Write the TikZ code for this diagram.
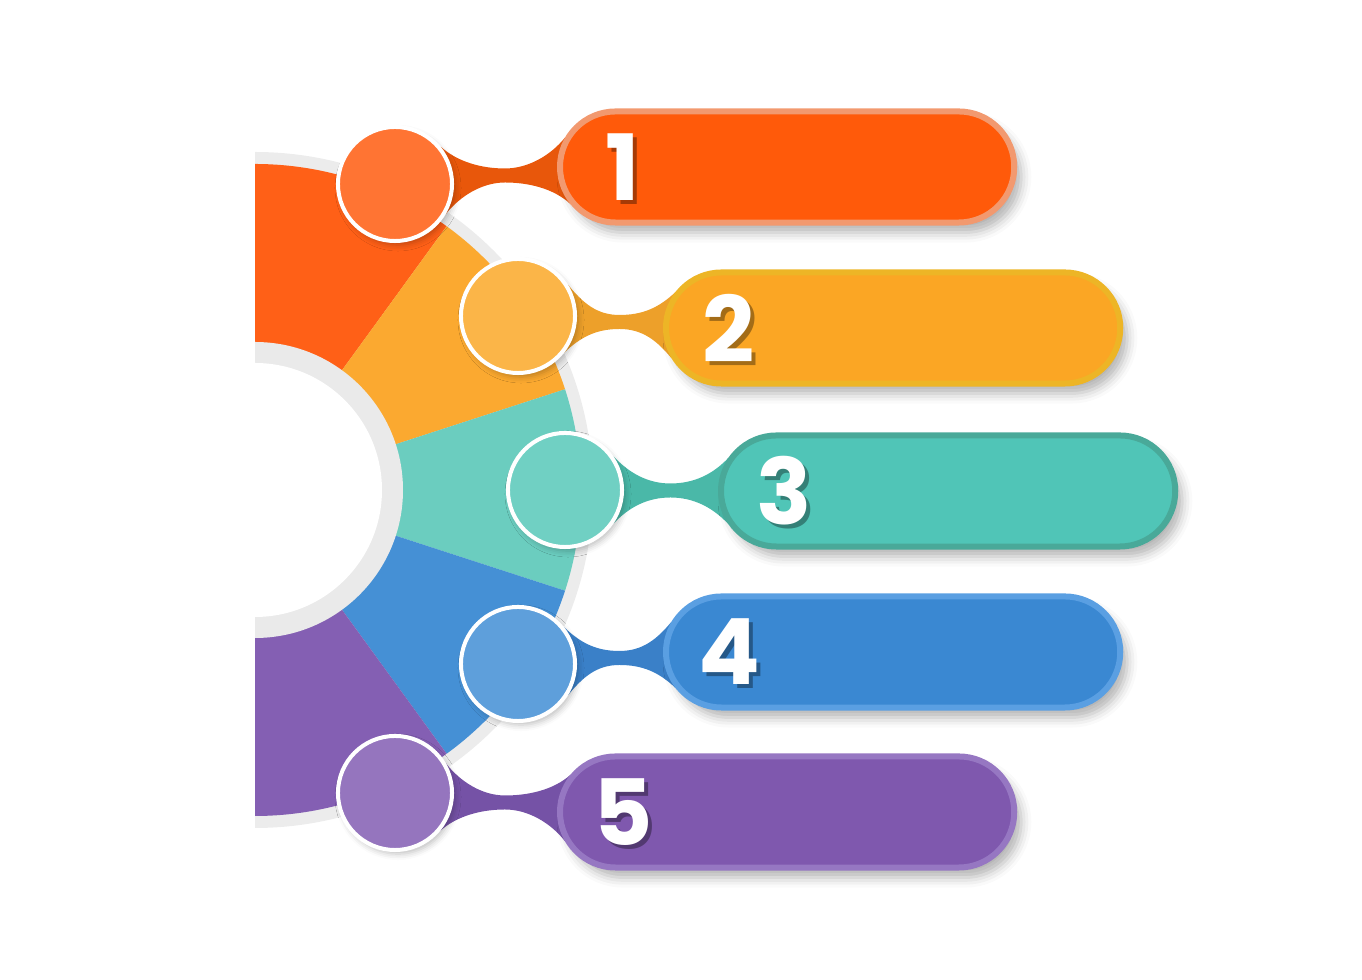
\documentclass[tikz,border=0pt]{standalone}
\usepackage{fontspec}
\newfontfamily\numfont{Poppins}
\usetikzlibrary{calc,shadows.blur}

\definecolor{orngSec}{HTML}{FF6017}
\definecolor{orngDot}{HTML}{FF7433}
\definecolor{orngBar}{HTML}{FF5A0A}
\definecolor{orngRim}{HTML}{F2996F}
\definecolor{orngNeck}{HTML}{E8570B}
\definecolor{yellSec}{HTML}{FBA930}
\definecolor{yellDot}{HTML}{FBB548}
\definecolor{yellBar}{HTML}{FBA624}
\definecolor{yellRim}{HTML}{EDB526}
\definecolor{yellNeck}{HTML}{EDA02A}
\definecolor{tealSec}{HTML}{6BCDBF}
\definecolor{tealDot}{HTML}{70D0C3}
\definecolor{tealBar}{HTML}{50C5B7}
\definecolor{tealRim}{HTML}{49A999}
\definecolor{tealNeck}{HTML}{4AB8A8}
\definecolor{blueSec}{HTML}{4590D5}
\definecolor{blueDot}{HTML}{5E9FDB}
\definecolor{blueBar}{HTML}{3A88D2}
\definecolor{blueRim}{HTML}{5A9FE2}
\definecolor{blueNeck}{HTML}{3A80C8}
\definecolor{purpSec}{HTML}{845FB3}
\definecolor{purpDot}{HTML}{9575BE}
\definecolor{purpBar}{HTML}{7F58AE}
\definecolor{purpRim}{HTML}{9677C2}
\definecolor{purpNeck}{HTML}{7552A6}
\definecolor{ringgray}{HTML}{ECECEC}
\definecolor{innergray}{HTML}{EAEAEA}

\tikzset{
  dotnode/.style={circle, draw=white, line width=0.04cm, minimum size=1.14cm,
    inner sep=0pt, blur shadow={shadow xshift=0.03cm, shadow yshift=-0.04cm,
    shadow blur radius=0.06cm, shadow opacity=25}},
  barnode/.style={rectangle, rounded corners=0.555cm, minimum width=4.54cm,
    minimum height=1.11cm, line width=0.06cm,
    blur shadow={shadow xshift=0.07cm, shadow yshift=-0.1cm,
    shadow blur radius=0.1cm, shadow opacity=30}},
  numnode/.style={font=\numfont\bfseries\fontsize{26}{26}\selectfont,
    text=white, inner sep=0pt},
  numshadow/.style={numnode, text=black, text opacity=0.35},
}

\begin{document}
\begin{tikzpicture}[x=0.01cm, y=-0.01cm]
  \useasboundingbox (0,0) rectangle (1362,980);
  \coordinate (O) at (255,490);

  % half ring
  \fill[ringgray] ($(O)+(-90:338)$) arc[start angle=-90, end angle=90, radius=338] -- cycle;
  \foreach \a/\col in {-90/orng, -54/yell, -18/teal, 18/blue, 54/purp}
    \fill[\col Sec] (O) -- ($(O)+(\a:326)$) arc[start angle=\a, delta angle=36, radius=326] -- cycle;
  \fill[innergray] ($(O)+(-90:148)$) arc[start angle=-90, end angle=90, radius=148] -- cycle;
  \fill[white] ($(O)+(-90:127)$) arc[start angle=-90, end angle=90, radius=127] -- cycle;

  % steps
  \foreach \n/\cx/\cy/\bl/\by/\phi/\col in {
      1/395/184/557/167/-4.4/orng,
      2/518/316/663/328/3.4/yell,
      3/565/490/718/491/0/teal,
      4/518/664/663/652/-3.4/blue,
      5/395/793/557/812/5/purp} {
    \coordinate (ctr\n) at (\cx,\cy);
    \coordinate (cap\n) at (\bl+58,\by);
    \fill[\col Neck] ($(ctr\n)+(\phi-35:59)$)
      .. controls +(\phi+47:23) and +(-23,0) .. ($(ctr\n)!0.5!(cap\n)+(0,-7)$)
      .. controls +(23,0) and +(\phi+133:23) .. ($(cap\n)+(\phi-145:58)$)
      -- ($(cap\n)+(\phi+145:58)$)
      .. controls +(\phi-133:23) and +(23,0) .. ($(ctr\n)!0.5!(cap\n)+(0,7)$)
      .. controls +(-23,0) and +(\phi-47:23) .. ($(ctr\n)+(\phi+35:59)$) -- cycle;
    \node[barnode, anchor=west, fill=\col Bar, draw=\col Rim] (bar\n) at (\bl,\by) {};
    \node[dotnode, fill=\col Dot] (dot\n) at (ctr\n) {};
    \node[numshadow] (numsh\n) at ($(bar\n.west)+(70,4)$) {\n};
    \node[numnode] (num\n) at ($(bar\n.west)+(66,0)$) {\n};
  }
\end{tikzpicture}
\end{document}
